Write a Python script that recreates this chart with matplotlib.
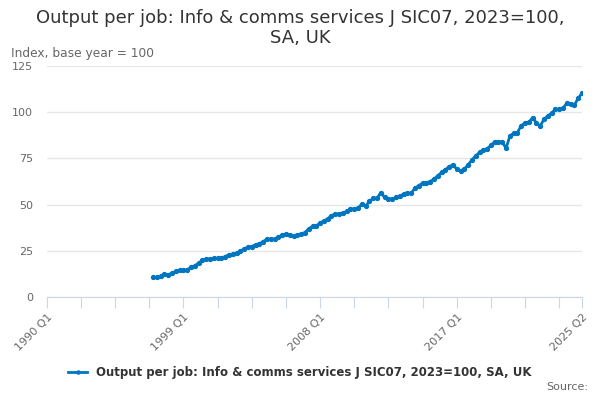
import matplotlib.pyplot as plt

# quarterly index values, 1997 Q1 .. 2025 Q2
first_year = 1997
values = [
    10.6, 10.6, 11.1, 12.4,   # 1997
    12.0, 13.0, 13.8, 14.4,   # 1998
    14.4, 14.8, 16.0, 16.9,   # 1999
    18.4, 19.8, 20.5, 20.5,   # 2000
    20.9, 20.9, 20.9, 21.9,   # 2001
    22.9, 23.2, 23.8, 24.7,   # 2002
    26.1, 27.0, 27.3, 28.3,   # 2003
    28.8, 30.0, 31.3, 31.3,   # 2004
    31.3, 32.2, 33.7, 34.0,   # 2005
    33.3, 32.8, 33.5, 34.0,   # 2006
    34.9, 36.9, 38.2, 38.5,   # 2007
    40.0, 41.2, 42.3, 44.1,   # 2008
    44.9, 44.9, 45.4, 46.3,   # 2009
    47.6, 47.6, 48.1, 50.3,   # 2010
    49.3, 51.7, 53.5, 53.5,   # 2011
    56.5, 53.9, 53.0, 53.0,   # 2012
    53.9, 54.4, 55.8, 56.2,   # 2013
    56.2, 58.9, 60.3, 61.6,   # 2014
    61.9, 62.5, 63.8, 65.6,   # 2015
    67.4, 68.8, 70.6, 71.5,   # 2016
    69.2, 68.3, 69.2, 71.5,   # 2017
    74.2, 76.4, 78.2, 79.6,   # 2018
    80.2, 82.0, 84.1, 84.1,   # 2019
    83.8, 80.5, 87.2, 88.6,   # 2020
    89.0, 92.8, 94.1, 94.6,   # 2021
    97.1, 94.1, 92.6, 96.2,   # 2022
    98.0, 99.5, 101.6, 101.6, # 2023
    102.2, 104.9, 104.5, 103.9,  # 2024
    107.6, 110.3,             # 2025
]
axis_start = 1990
axis_end_label = "2025 Q2"
label_years = [1990, 1999, 2008, 2017]
y_ticks = [0, 25, 50, 75, 100, 125]
title = "Output per job: Info & comms services J SIC07, 2023=100,\nSA, UK"
series_name = "Output per job: Info & comms services J SIC07, 2023=100, SA, UK"

BLUE = "#0076c0"
GREY = "#666666"

# quarter index counted from 1990 Q1
offset = (first_year - axis_start) * 4
x = [offset + i for i in range(len(values))]
last_q = x[-1]

fig = plt.figure(figsize=(6, 4), dpi=100)
ax = fig.add_axes([0.078, 0.2575, 0.892, 0.5775])

ax.plot(x, values, color=BLUE, lw=2, marker="o", ms=2.8, label=series_name)

ax.set_xlim(0, last_q)
ax.set_ylim(0, 125)
ax.set_yticks(y_ticks)
ax.grid(axis="y", color="#e6e6e6", lw=1)
ax.set_axisbelow(True)

ticks = list(range(0, last_q, 9)) + [last_q]
ax.set_xticks(ticks)
labels = []
for t in ticks:
    if t == last_q:
        labels.append(axis_end_label)
    elif (axis_start + t // 4) in label_years and t % 36 == 0:
        labels.append(f"{axis_start + t // 4} Q1")
    else:
        labels.append("")
ax.set_xticklabels(labels, rotation=45, ha="right", rotation_mode="anchor")

for s in ["top", "right", "left"]:
    ax.spines[s].set_visible(False)
ax.spines["bottom"].set_color("#ccd6eb")
ax.tick_params(axis="x", colors="#ccd6eb", length=8, labelcolor=GREY, labelsize=8, pad=3)
ax.tick_params(axis="y", length=0, labelcolor=GREY, labelsize=8, pad=10)

fig.text(0.5, 0.978, title, ha="center", va="top", fontsize=13, color="#333333",
         linespacing=1.15)
fig.text(0.018, 0.857, "Index, base year = 100", fontsize=8.8, color=GREY)

leg = fig.legend(loc="center", bbox_to_anchor=(0.5, 0.068), frameon=False,
                 prop={"weight": "bold", "size": 8.5}, handlelength=1.6,
                 markerscale=0.8)
for txt in leg.get_texts():
    txt.set_color("#333333")
fig.text(0.98, 0.025, "Source:", ha="right", fontsize=8, color=GREY)

fig.savefig("out.png", dpi=100)
